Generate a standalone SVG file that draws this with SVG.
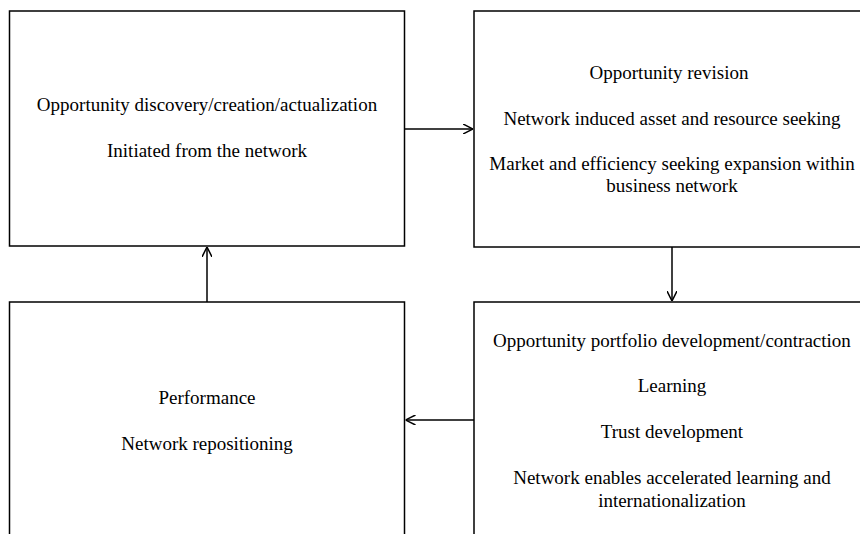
<svg xmlns="http://www.w3.org/2000/svg" width="860" height="534" viewBox="0 0 860 534">
<style>
.box{fill:#fff;stroke:#000;stroke-width:1.5}
text{font-family:"Liberation Serif","Times New Roman",serif;font-size:19px;fill:#000;text-anchor:middle}
.conn{stroke:#000;stroke-width:1.5;fill:none;marker-end:url(#arr)}
</style>
<defs>
<marker id="arr" viewBox="0 0 10 10" refX="10" refY="5" markerWidth="10" markerHeight="10" markerUnits="userSpaceOnUse" orient="auto">
<path d="M0,0 L10,5 L0,10" fill="none" stroke="#000" stroke-width="1.5"/>
</marker>
</defs>
<rect width="860" height="534" fill="#fff"/>
<g id="node-discovery">
<rect class="box" x="9.5" y="11" width="395" height="235"/>
<text x="207" y="111">Opportunity discovery/creation/actualization</text>
<text x="207" y="157">Initiated from the network</text>
</g>
<g id="node-revision">
<rect class="box" x="474" y="11" width="400" height="236"/>
<text x="669" y="79">Opportunity revision</text>
<text x="672" y="125">Network induced asset and resource seeking</text>
<text x="672" y="170">Market and efficiency seeking expansion within</text>
<text x="672" y="192">business network</text>
</g>
<g id="node-portfolio">
<rect class="box" x="474" y="302" width="400" height="250"/>
<text x="672" y="347">Opportunity portfolio development/contraction</text>
<text x="672" y="392">Learning</text>
<text x="672" y="438">Trust development</text>
<text x="672" y="484">Network enables accelerated learning and</text>
<text x="672" y="507">internationalization</text>
</g>
<g id="node-performance">
<rect class="box" x="9.5" y="302" width="395" height="250"/>
<text x="207" y="404">Performance</text>
<text x="207" y="450">Network repositioning</text>
</g>
<g id="connectors">
<line class="conn" x1="404.5" y1="129" x2="473" y2="129"/>
<line class="conn" x1="672" y1="247" x2="672" y2="301"/>
<line class="conn" x1="474" y1="420" x2="405.5" y2="420"/>
<line class="conn" x1="207" y1="302" x2="207" y2="247"/>
</g>
</svg>
